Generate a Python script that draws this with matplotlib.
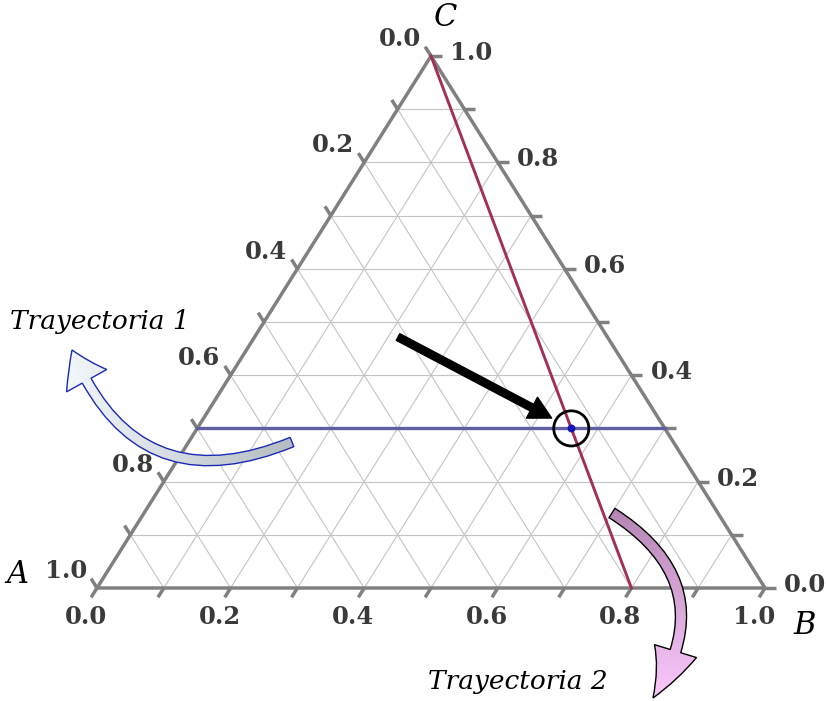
import numpy as np
import matplotlib
matplotlib.use('Agg')
import matplotlib.pyplot as plt
from matplotlib.patches import FancyArrowPatch, PathPatch
from matplotlib.colors import LinearSegmentedColormap

# ternary data: (A, B, C) fractions
grid_vals = [0.1, 0.2, 0.3, 0.4, 0.5, 0.6, 0.7, 0.8, 0.9]
tick_vals = [0.0, 0.1, 0.2, 0.3, 0.4, 0.5, 0.6, 0.7, 0.8, 0.9, 1.0]
label_vals = [0.0, 0.2, 0.4, 0.6, 0.8, 1.0]
tray1_start = (0.7, 0.0, 0.3)
tray1_end = (0.0, 0.7, 0.3)
tray2_start = (0.0, 0.0, 1.0)
tray2_end = (0.2, 0.8, 0.0)
point = (0.14, 0.56, 0.3)
vertex_names = ['A', 'B', 'C']
tray_names = ['Trayectoria 1', 'Trayectoria 2']


def cart(a, b, c):
    return b + c / 2.0, c


fig = plt.figure(figsize=(8.26, 7.01), dpi=100)
ax = fig.add_axes([0, 0, 1, 1])
ax.set_xlim(-0.1452, 1.0913)
ax.set_ylim(-0.2124, 1.1053)
ax.axis('off')

PX_X = 668.0
PX_Y = 532.0
edge_col = '#808080'
grid_col = '#c4c4c4'
lab_col = '#3a3a3a'

# grid
for v in grid_vals:
    for p, q in [((1 - v, 0, v), (0, 1 - v, v)),
                 ((1 - v, v, 0), (0, v, 1 - v)),
                 ((v, 1 - v, 0), (v, 0, 1 - v))]:
        x0, y0 = cart(*p)
        x1, y1 = cart(*q)
        ax.plot([x0, x1], [y0, y1], color=grid_col, lw=0.8, zorder=1)

# edges
tri = [cart(1, 0, 0), cart(0, 1, 0), cart(0, 0, 1), cart(1, 0, 0)]
ax.plot([t[0] for t in tri], [t[1] for t in tri], color=edge_col, lw=2.5,
        solid_joinstyle='miter', zorder=3)

# ticks (length in pixels, image direction)
L = 11.0
d_bot = np.array([-334.0, 532.0]); d_bot = d_bot / np.linalg.norm(d_bot) * L
d_left = np.array([-334.0, -532.0]); d_left = d_left / np.linalg.norm(d_left) * L
d_right = np.array([L, 0.0])


def tick(x, y, d):
    ax.plot([x, x + d[0] / PX_X], [y, y - d[1] / PX_Y], color=edge_col,
            lw=2.5, solid_capstyle='butt', zorder=3)


tfont = dict(family='DejaVu Serif', fontweight='bold', fontsize=17.5,
             color=lab_col)
for v in tick_vals:
    # bottom axis: B fraction
    xb, yb = cart(1 - v, v, 0)
    tick(xb, yb, d_bot)
    # left axis: A fraction
    xl, yl = cart(v, 0, 1 - v)
    tick(xl, yl, d_left)
    # right axis: C fraction
    xr, yr = cart(0, 1 - v, v)
    tick(xr, yr, d_right)

for v in label_vals:
    s = '%.1f' % v
    xb, yb = cart(1 - v, v, 0)
    ax.annotate(s, (xb, yb), xytext=(-11, -29), textcoords='offset pixels',
                ha='center', va='center', **tfont)
    xl, yl = cart(v, 0, 1 - v)
    ax.annotate(s, (xl, yl), xytext=(-10, 17), textcoords='offset pixels',
                ha='right', va='center', **tfont)
    xr, yr = cart(0, 1 - v, v)
    ax.annotate(s, (xr, yr), xytext=(19, 3), textcoords='offset pixels',
                ha='left', va='center', **tfont)

# vertex names
vfont = dict(family='DejaVu Serif', style='italic', fontsize=22, color='black')
for name, vert, off in zip(vertex_names, [(1, 0, 0), (0, 1, 0), (0, 0, 1)],
                           [(-80, 14), (40, -37), (14, 39)]):
    x, y = cart(*vert)
    ax.annotate(name, (x, y), xytext=off, textcoords='offset pixels',
                ha='center', va='center', **vfont)

# trajectories
x0, y0 = cart(*tray1_start)
x1, y1 = cart(*tray1_end)
ax.plot([x0, x1], [y0, y1], color='#6060a0', lw=2.4, zorder=4)
x0, y0 = cart(*tray2_start)
x1, y1 = cart(*tray2_end)
ax.plot([x0, x1], [y0, y1], color='#a03058', lw=2.1, zorder=4)

px_, py_ = cart(*point)
ax.scatter([px_], [py_], s=640, facecolors='none', edgecolors='black',
           linewidths=2.0, zorder=6)
ax.scatter([px_], [py_], s=22, color='#1414b4', zorder=7)

# overlay in image pixel coordinates for annotations
ov = fig.add_axes([0, 0, 1, 1])
ov.set_xlim(0, 826)
ov.set_ylim(701, 0)
ov.axis('off')
ov.patch.set_visible(False)

ax.annotate('', xy=(px_, py_), xycoords='data', xytext=(398, 337),
            textcoords=ov.transData,
            arrowprops=dict(arrowstyle='simple,head_width=0.85,head_length=0.8,tail_width=0.27',
                            mutation_scale=20, color='black', shrinkA=0,
                            shrinkB=16), zorder=8)


def curved_arrow(tail, head, rad, hw, hl, tw, c0, c1, edge, vertical):
    fa = FancyArrowPatch(tail, head, connectionstyle='arc3,rad=%s' % rad,
                         arrowstyle='simple,head_width=%s,head_length=%s,tail_width=%s' % (hw, hl, tw),
                         mutation_scale=1, shrinkA=0, shrinkB=0,
                         transform=ov.transData)
    path = fa.get_path()
    pp = PathPatch(path, transform=ov.transData, facecolor='none',
                   edgecolor=edge, lw=1.0, zorder=6)
    ov.add_patch(pp)
    ext = path.get_extents()
    cmap = LinearSegmentedColormap.from_list('g', [c0, c1])
    if vertical:
        grad = np.linspace(0, 1, 256).reshape(-1, 1)
        extent = (ext.x0, ext.x1, ext.y1, ext.y0)
    else:
        grad = np.linspace(0, 1, 256).reshape(1, -1)
        extent = (ext.x1, ext.x0, ext.y1, ext.y0)
    im = ov.imshow(grad, cmap=cmap, extent=extent, aspect='auto', zorder=5,
                   interpolation='bilinear')
    im.set_clip_path(pp)


curved_arrow((292, 442), (72, 350), -0.5, 46, 34, 10,
             '#b4bcc0', '#f2f7fc', '#1a2ab4', False)
curved_arrow((612, 513), (653, 698), -0.5, 44, 52, 11,
             '#b486b4', '#fcc8fc', 'black', True)
ov.set_xlim(0, 826)
ov.set_ylim(701, 0)

nfont = dict(family='DejaVu Serif', style='italic', fontsize=19, color='black')
ov.text(100, 322, tray_names[0], ha='center', va='center', **nfont)
ov.text(518, 682, tray_names[1], ha='center', va='center', **nfont)

fig.savefig('out.png', dpi=100)
